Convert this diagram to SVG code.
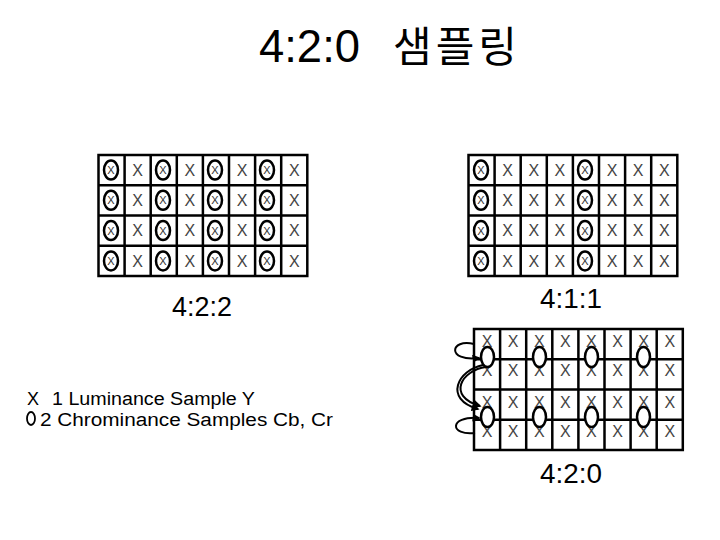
<svg xmlns="http://www.w3.org/2000/svg" width="720" height="540" viewBox="0 0 720 540">
<style>
.bg{fill:#fff}
.grid{fill:#fff;stroke:#000;stroke-width:2.5}
.gl{fill:none;stroke:#000;stroke-width:2.5}
.x{font-family:"Liberation Sans",Arial,sans-serif;font-size:16px;text-anchor:middle;fill:#444}
.xs{font-family:"Liberation Sans",Arial,sans-serif;font-size:11px;text-anchor:middle;fill:#333}
.ch{fill:none;stroke:#000;stroke-width:2.5}
.chw{fill:#fff;stroke:#000;stroke-width:2.5}
.lbl{font-family:"Liberation Sans",Arial,sans-serif;font-size:28px;fill:#000}
.leg{font-family:"Liberation Sans",Arial,sans-serif;font-size:18px;fill:#000}
.arr{fill:none;stroke:#000;stroke-width:2;marker-end:url(#ah)}
</style>
<defs>
<marker id="ah" viewBox="0 0 10 10" refX="8" refY="5" markerWidth="4" markerHeight="4" orient="auto" markerUnits="strokeWidth">
<path d="M0,0 L10,5 L0,10 z" fill="#000"/>
</marker>
</defs>
<rect class="bg" x="0" y="0" width="720" height="540"/>

<g id="title">
<text font-family="Liberation Sans, Noto Sans CJK KR, sans-serif" y="62" fill="#000"><tspan x="259" font-size="46" textLength="101" lengthAdjust="spacingAndGlyphs">4:2:0</tspan><tspan x="393" font-size="42" font-family="Noto Sans CJK KR, sans-serif" textLength="124" lengthAdjust="spacing">샘플링</tspan></text>
</g>

<g id="grid-422">
<rect class="grid" x="98.5" y="155" width="208.8" height="121"/>
<path class="gl" d="M124.6,155V276M150.7,155V276M176.8,155V276M202.9,155V276M229,155V276M255.1,155V276M281.2,155V276M98.5,185.25H307.3M98.5,215.5H307.3M98.5,245.75H307.3"/>
<text class="x" x="137.7" y="175.8">X</text><text class="x" x="189.9" y="175.8">X</text><text class="x" x="242.1" y="175.8">X</text><text class="x" x="294.3" y="175.8">X</text>
<text class="x" x="137.7" y="206.1">X</text><text class="x" x="189.9" y="206.1">X</text><text class="x" x="242.1" y="206.1">X</text><text class="x" x="294.3" y="206.1">X</text>
<text class="x" x="137.7" y="236.4">X</text><text class="x" x="189.9" y="236.4">X</text><text class="x" x="242.1" y="236.4">X</text><text class="x" x="294.3" y="236.4">X</text>
<text class="x" x="137.7" y="266.7">X</text><text class="x" x="189.9" y="266.7">X</text><text class="x" x="242.1" y="266.7">X</text><text class="x" x="294.3" y="266.7">X</text>
<ellipse class="ch" cx="111" cy="170" rx="7" ry="9.5"/><ellipse class="ch" cx="163" cy="170" rx="7" ry="9.5"/><ellipse class="ch" cx="215" cy="170" rx="7" ry="9.5"/><ellipse class="ch" cx="267" cy="170" rx="7" ry="9.5"/>
<ellipse class="ch" cx="111" cy="200.3" rx="7" ry="9.5"/><ellipse class="ch" cx="163" cy="200.3" rx="7" ry="9.5"/><ellipse class="ch" cx="215" cy="200.3" rx="7" ry="9.5"/><ellipse class="ch" cx="267" cy="200.3" rx="7" ry="9.5"/>
<ellipse class="ch" cx="111" cy="230.6" rx="7" ry="9.5"/><ellipse class="ch" cx="163" cy="230.6" rx="7" ry="9.5"/><ellipse class="ch" cx="215" cy="230.6" rx="7" ry="9.5"/><ellipse class="ch" cx="267" cy="230.6" rx="7" ry="9.5"/>
<ellipse class="ch" cx="111" cy="260.9" rx="7" ry="9.5"/><ellipse class="ch" cx="163" cy="260.9" rx="7" ry="9.5"/><ellipse class="ch" cx="215" cy="260.9" rx="7" ry="9.5"/><ellipse class="ch" cx="267" cy="260.9" rx="7" ry="9.5"/>
<text class="xs" x="111" y="174">X</text><text class="xs" x="163" y="174">X</text><text class="xs" x="215" y="174">X</text><text class="xs" x="267" y="174">X</text>
<text class="xs" x="111" y="204.3">X</text><text class="xs" x="163" y="204.3">X</text><text class="xs" x="215" y="204.3">X</text><text class="xs" x="267" y="204.3">X</text>
<text class="xs" x="111" y="234.6">X</text><text class="xs" x="163" y="234.6">X</text><text class="xs" x="215" y="234.6">X</text><text class="xs" x="267" y="234.6">X</text>
<text class="xs" x="111" y="264.9">X</text><text class="xs" x="163" y="264.9">X</text><text class="xs" x="215" y="264.9">X</text><text class="xs" x="267" y="264.9">X</text>
<text class="lbl" x="172" y="316" textLength="60" lengthAdjust="spacingAndGlyphs">4:2:2</text>
</g>

<g id="grid-411">
<rect class="grid" x="468.5" y="155" width="208.8" height="121"/>
<path class="gl" d="M494.6,155V276M520.7,155V276M546.8,155V276M572.9,155V276M599,155V276M625.1,155V276M651.2,155V276M468.5,185.25H677.3M468.5,215.5H677.3M468.5,245.75H677.3"/>
<text class="x" x="507.7" y="175.8">X</text><text class="x" x="533.8" y="175.8">X</text><text class="x" x="559.9" y="175.8">X</text><text class="x" x="612.1" y="175.8">X</text><text class="x" x="638.2" y="175.8">X</text><text class="x" x="664.3" y="175.8">X</text>
<text class="x" x="507.7" y="206.1">X</text><text class="x" x="533.8" y="206.1">X</text><text class="x" x="559.9" y="206.1">X</text><text class="x" x="612.1" y="206.1">X</text><text class="x" x="638.2" y="206.1">X</text><text class="x" x="664.3" y="206.1">X</text>
<text class="x" x="507.7" y="236.4">X</text><text class="x" x="533.8" y="236.4">X</text><text class="x" x="559.9" y="236.4">X</text><text class="x" x="612.1" y="236.4">X</text><text class="x" x="638.2" y="236.4">X</text><text class="x" x="664.3" y="236.4">X</text>
<text class="x" x="507.7" y="266.7">X</text><text class="x" x="533.8" y="266.7">X</text><text class="x" x="559.9" y="266.7">X</text><text class="x" x="612.1" y="266.7">X</text><text class="x" x="638.2" y="266.7">X</text><text class="x" x="664.3" y="266.7">X</text>
<ellipse class="ch" cx="481" cy="170" rx="7" ry="9.5"/><ellipse class="ch" cx="585" cy="170" rx="7" ry="9.5"/>
<ellipse class="ch" cx="481" cy="200.3" rx="7" ry="9.5"/><ellipse class="ch" cx="585" cy="200.3" rx="7" ry="9.5"/>
<ellipse class="ch" cx="481" cy="230.6" rx="7" ry="9.5"/><ellipse class="ch" cx="585" cy="230.6" rx="7" ry="9.5"/>
<ellipse class="ch" cx="481" cy="260.9" rx="7" ry="9.5"/><ellipse class="ch" cx="585" cy="260.9" rx="7" ry="9.5"/>
<text class="xs" x="481" y="174">X</text><text class="xs" x="585" y="174">X</text>
<text class="xs" x="481" y="204.3">X</text><text class="xs" x="585" y="204.3">X</text>
<text class="xs" x="481" y="234.6">X</text><text class="xs" x="585" y="234.6">X</text>
<text class="xs" x="481" y="264.9">X</text><text class="xs" x="585" y="264.9">X</text>
<text class="lbl" x="540" y="308" textLength="62" lengthAdjust="spacingAndGlyphs">4:1:1</text>
</g>

<g id="grid-420">
<rect class="grid" x="474" y="329" width="208.8" height="121"/>
<path class="gl" d="M500.1,329V450M526.2,329V450M552.3,329V450M578.4,329V450M604.5,329V450M630.6,329V450M656.7,329V450M474,359.25H682.8M474,389.5H682.8M474,419.75H682.8"/>
<text class="x" x="487.05" y="346.7">X</text><text class="x" x="513.15" y="346.7">X</text><text class="x" x="539.25" y="346.7">X</text><text class="x" x="565.35" y="346.7">X</text><text class="x" x="591.45" y="346.7">X</text><text class="x" x="617.55" y="346.7">X</text><text class="x" x="643.65" y="346.7">X</text><text class="x" x="669.75" y="346.7">X</text>
<text class="x" x="487.05" y="375.7">X</text><text class="x" x="513.15" y="375.7">X</text><text class="x" x="539.25" y="375.7">X</text><text class="x" x="565.35" y="375.7">X</text><text class="x" x="591.45" y="375.7">X</text><text class="x" x="617.55" y="375.7">X</text><text class="x" x="643.65" y="375.7">X</text><text class="x" x="669.75" y="375.7">X</text>
<text class="x" x="487.05" y="407.7">X</text><text class="x" x="513.15" y="407.7">X</text><text class="x" x="539.25" y="407.7">X</text><text class="x" x="565.35" y="407.7">X</text><text class="x" x="591.45" y="407.7">X</text><text class="x" x="617.55" y="407.7">X</text><text class="x" x="643.65" y="407.7">X</text><text class="x" x="669.75" y="407.7">X</text>
<text class="x" x="487.05" y="436.7">X</text><text class="x" x="513.15" y="436.7">X</text><text class="x" x="539.25" y="436.7">X</text><text class="x" x="565.35" y="436.7">X</text><text class="x" x="591.45" y="436.7">X</text><text class="x" x="617.55" y="436.7">X</text><text class="x" x="643.65" y="436.7">X</text><text class="x" x="669.75" y="436.7">X</text>
<ellipse class="chw" cx="487.5" cy="357" rx="6.5" ry="10"/><ellipse class="chw" cx="539.5" cy="357" rx="6.5" ry="10"/><ellipse class="chw" cx="591.5" cy="357" rx="6.5" ry="10"/><ellipse class="chw" cx="643.5" cy="357" rx="6.5" ry="10"/>
<ellipse class="chw" cx="487.5" cy="417" rx="6.5" ry="10"/><ellipse class="chw" cx="539.5" cy="417" rx="6.5" ry="10"/><ellipse class="chw" cx="591.5" cy="417" rx="6.5" ry="10"/><ellipse class="chw" cx="643.5" cy="417" rx="6.5" ry="10"/>
<text class="lbl" x="540" y="483" textLength="62" lengthAdjust="spacingAndGlyphs">4:2:0</text>
</g>

<g id="connectors">
<path class="arr" d="M474,344 C450,338 446,362 479,358"/>
<path class="arr" d="M486,367 C462,370 446,396 480,406"/>
<path class="arr" d="M483,365 C458,370 443,399 478,409"/>
<path class="arr" d="M475,433 C450,436 448,416 479,418"/>
</g>

<g id="legend">
<text class="leg" x="27" y="405">X</text>
<text class="leg" x="52" y="405" textLength="203" lengthAdjust="spacingAndGlyphs">1 Luminance Sample Y</text>
<ellipse cx="31" cy="418.5" rx="4" ry="6.5" fill="none" stroke="#000" stroke-width="1.8"/>
<text class="leg" x="40" y="426" textLength="293" lengthAdjust="spacingAndGlyphs">2 Chrominance Samples Cb, Cr</text>
</g>
</svg>
